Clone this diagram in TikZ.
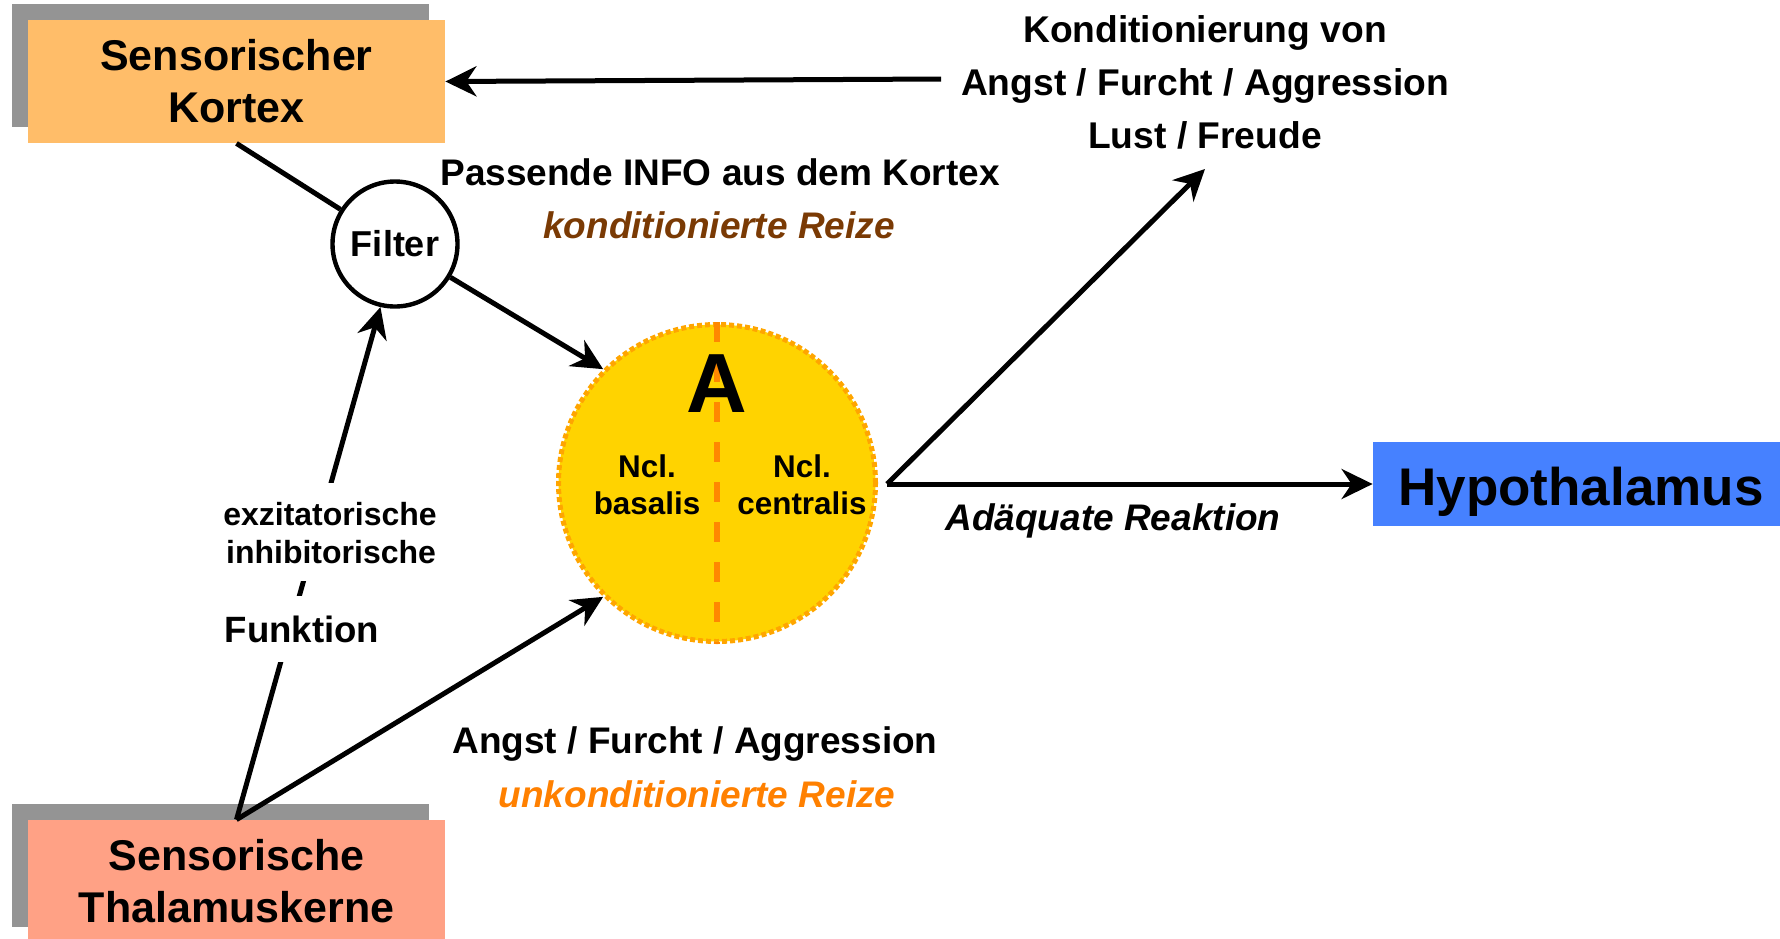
\documentclass[tikz,border=0pt]{standalone}
\usepackage{fontspec}
\setmainfont{Liberation Sans}
\usetikzlibrary{arrows.meta,calc}
\definecolor{cortexfill}{HTML}{FFBD69}
\definecolor{thalfill}{HTML}{FFA185}
\definecolor{hypfill}{HTML}{4681FF}
\definecolor{shadowgray}{HTML}{949494}
\definecolor{amyfill}{HTML}{FFD300}
\definecolor{amyborder}{HTML}{FFA500}
\definecolor{amydash}{HTML}{FF8800}
\definecolor{brownred}{HTML}{7A3A04}
\definecolor{orangetxt}{HTML}{FF8000}
\newcommand{\fsz}[2]{\fontsize{#1}{#2}\selectfont\bfseries}
\begin{document}
\begin{tikzpicture}[x=0.5pt,y=-0.5pt,
  conn/.style={line width=2.5pt,draw=black},
  arr/.style={conn,-{Stealth[length=15.5pt,width=15pt,inset=5pt]}},
  boxnode/.style={inner sep=0pt,minimum width=208.5pt,minimum height=61.5pt,align=center,font=\fsz{21.5}{26}},
  lbl/.style={anchor=base,inner sep=0pt,font=\fsz{18.5}{22}},
  whitelbl/.style={anchor=base,fill=white,inner xsep=4pt,inner ysep=0pt},
  ncl/.style={anchor=base,inner sep=0pt,font=\fsz{15.7}{19}}
]
\useasboundingbox (0,0) rectangle (1780,938);
\clip (0,0) rectangle (1780,938);

% boxes
\fill[shadowgray] (12,4) rectangle (429,127);
\node[boxnode,fill=cortexfill] (cortex) at (236.5,81.5) {Sensorischer\\Kortex};
\fill[shadowgray] (12,804) rectangle (429,927);
\node[boxnode,fill=thalfill] (thal) at (236.5,881.5) {Sensorische\\Thalamuskerne};
\node[inner sep=0pt,minimum width=208pt,minimum height=42pt,fill=hypfill,
      font=\fsz{26.5}{32},text height=21pt,text depth=0pt] (hyp) at (1581,484) {Hypothalamus};

% filter
\node[circle,draw,line width=2.2pt,minimum size=62.5pt,inner sep=0pt,fill=white,
      font=\fsz{18}{22}] (filter) at (395,244) {Filter};

% amygdala
\node[circle,minimum size=158.5pt,inner sep=0pt,fill=amyfill,draw=amyborder,
      line width=2.5pt,dash pattern=on 2.5pt off 1.5pt] (amy) at (717,483) {};
\draw[amydash,line width=2.6pt,dash pattern=on 10pt off 10pt] (amy.north) -- (amy.south);
\node[anchor=base,inner sep=0pt,font=\fsz{42}{50}] (atext) at (717,412) {A};
\node[ncl] (bas1) at (647,477) {Ncl.};
\node[ncl] (bas2) at (647,514) {basalis};
\node[ncl] (cen1) at (802,477) {Ncl.};
\node[ncl] (cen2) at (802,514) {centralis};

% connectors
\coordinate (kin) at (941,79);
\draw[arr] (kin) -- (cortex.east);
\draw[conn] (cortex.south) -- (filter);
\draw[arr] (filter.329) -- (amy.135);
\draw[arr] (thal.north) -- (filter.257);
\draw[arr] (thal.north) -- (amy.225);
\coordinate (src) at (887,484);
\coordinate (up) at (1205,169);
\draw[arr] (src) -- (up);
\draw[arr] (src) -- (hyp.west);

% labels over the thalamus-filter line
\node[whitelbl,text height=21pt,text depth=9.5pt,font=\fsz{16}{19}] (exz) at (330,525) {exzitatorische};
\node[whitelbl,text height=9.5pt,text depth=9pt,font=\fsz{16}{19}] (inh) at (331,563) {inhibitorische};
\node[whitelbl,text height=23pt,text depth=10pt,font=\fsz{18.3}{22}] (funk) at (302,642) {Funktion};

% other labels
\node[lbl,font=\fsz{18.6}{22}] (k1) at (1205,42) {Konditionierung von};
\node[lbl,font=\fsz{18.6}{22}] (k2) at (1205,95) {Angst / Furcht / Aggression};
\node[lbl,font=\fsz{18.6}{22}] (k3) at (1205,148) {Lust / Freude};
\node[lbl] (pinfo) at (720,185) {Passende INFO aus dem Kortex};
\node[lbl,text=brownred,font=\fsz{18.5}{22}\itshape] (kreiz) at (719,238) {konditionierte Reize};
\node[lbl,font=\fsz{18.5}{22}\itshape] (adq) at (1113,530) {Adäquate Reaktion};
\node[lbl] (afa) at (695,753) {Angst / Furcht / Aggression};
\node[lbl,text=orangetxt,font=\fsz{18.5}{22}\itshape] (ureiz) at (697,807) {unkonditionierte Reize};
\end{tikzpicture}
\end{document}
